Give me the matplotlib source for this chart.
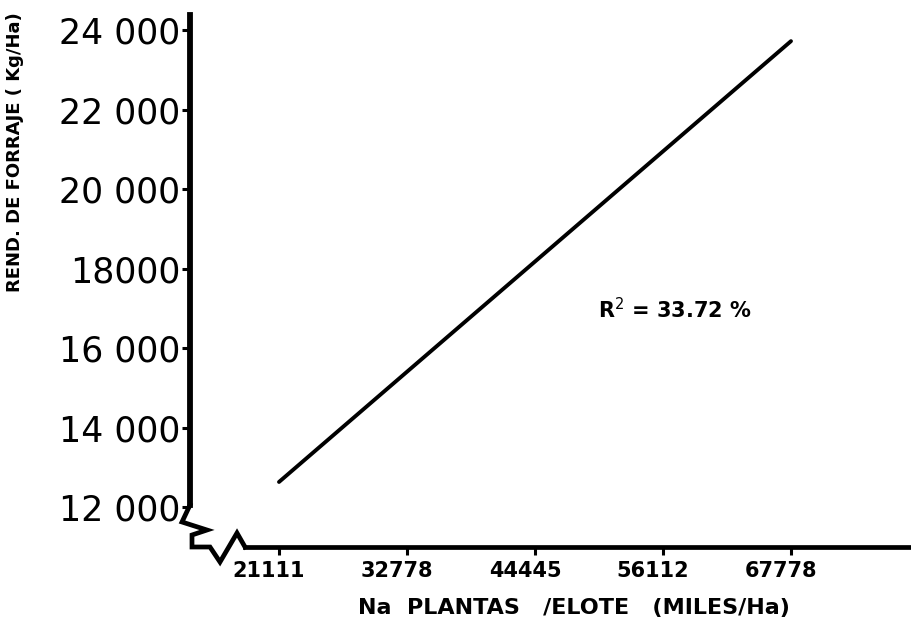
import matplotlib
matplotlib.use("Agg")
import matplotlib.pyplot as plt
import matplotlib.transforms as mtransforms
import numpy as np

# regression line: plants per ear vs. forage yield
plantas = [21111, 67778]
rendimiento = [12630, 23720]

x_ticks = [21111, 32778, 44445, 56112, 67778]
x_labels = ["21111", "32778", "44445", "56112", "67778"]
y_ticks = [12000, 14000, 16000, 18000, 20000, 22000, 24000]
y_labels = ["12 000", "14 000", "16 000", "18000", "20 000", "22 000", "24 000"]
r2_text = "R$^{2}$ = 33.72 %"

W, H = 912, 622
fig = plt.figure(figsize=(W / 100, H / 100), dpi=100)
ax = fig.add_axes([190 / W, 1 - 547 / H, (W - 190) / W, 547 / H])

ax.plot(plantas, rendimiento, color="black", lw=2.8, solid_capstyle="round")

ax.set_xlim(12999, 78808)
ax.set_ylim(10994, 24755)

for s in ["top", "right"]:
    ax.spines[s].set_visible(False)
ax.spines["left"].set_linewidth(4.2)
ax.spines["bottom"].set_linewidth(3.4)
ax.spines["left"].set_bounds(12050, 24380)
ax.spines["bottom"].set_bounds(18000, 78808)

ax.set_xticks(x_ticks)
ax.set_xticklabels(x_labels, fontsize=15, fontweight="bold")
ax.set_yticks(y_ticks)
ax.set_yticklabels(y_labels, fontsize=25, fontfamily="DejaVu Sans",
                   fontweight="normal", color="black")
ax.tick_params(axis="x", direction="out", length=6, width=2.2, pad=4)
ax.tick_params(axis="y", direction="out", length=6, width=2.2, pad=1)

# lettering under the x ticks sits a little left of each tick
shift = mtransforms.ScaledTranslation(-10 / 100, 0, fig.dpi_scale_trans)
for lab in ax.get_xticklabels():
    lab.set_transform(lab.get_transform() + shift)

# axis break zigzag at the origin (axes fraction)
bx = np.array([190, 182, 207, 192, 192, 210, 220, 237, 245])
by = np.array([505, 522, 530, 535, 547, 547, 562, 533, 547])
ax.plot((bx - 190) / (W - 190), (547 - by) / 547, color="black", lw=3.4,
        transform=ax.transAxes, clip_on=False, solid_joinstyle="miter")

fig.text(598 / W, 1 - 310 / H, r2_text, fontsize=15, fontweight="bold",
         va="center", ha="left")

fig.text(15 / W, 1 - 152 / H, "REND. DE FORRAJE ( Kg/Ha)", rotation=90,
         fontsize=13, fontweight="bold", ha="center", va="center")
fig.text(574 / W, 1 - 608 / H, "Na  PLANTAS   /ELOTE   (MILES/Ha)",
         fontsize=16, fontweight="bold", ha="center", va="center")

fig.savefig("out.png", dpi=100)
